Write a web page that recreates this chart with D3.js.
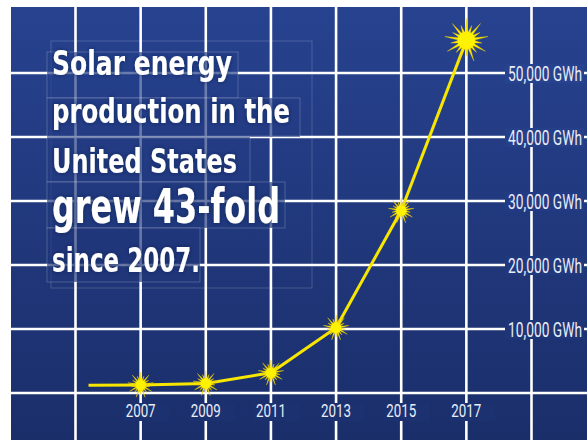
<!DOCTYPE html>
<html>
<head>
<meta charset="utf-8">
<script src="https://cdn.jsdelivr.net/npm/d3@7"></script>
<style>
  body { margin: 0; background: #fff; }
  svg { display: block; }
</style>
</head>
<body>
<svg id="chart"></svg>
<script>
// data (GWh per year); first point is where the line starts, no star
const years = [2005.4, 2007, 2009, 2011, 2013, 2015, 2017];
const production = [1200, 1250, 1500, 3150, 10200, 28500, 55100];
const starred = [false, true, true, true, true, true, true];
const xTickYears = [2007, 2009, 2011, 2013, 2015, 2017];
const xGridYears = [2005, 2007, 2009, 2011, 2013, 2015, 2017, 2019];
const yTickValues = [10000, 20000, 30000, 40000, 50000];
const yGridValues = [0, 10000, 20000, 30000, 40000, 50000];
const titleLines = ["Solar energy", "production in the", "United States", "grew 43-fold", "since 2007."];

const size = { width: 587, height: 440 };
const panel = { left: 11, top: 7 };
const bgTop = "#27428f";
const bgBottom = "#1a2e6a";
const titleFont = "'Liberation Sans Narrow', 'DejaVu Sans Condensed', 'Roboto', sans-serif";
const labelFont = "'Liberation Sans Narrow', 'Roboto', sans-serif";

// baseline, width, size of each title line
const titleLayout = [
  { y: 75, w: 180, fs: 34 },
  { y: 123, w: 238, fs: 34 },
  { y: 173, w: 185, fs: 34 },
  { y: 223, w: 228, fs: 48 },
  { y: 272, w: 148, fs: 34 }
];
const titleBoxes = [
  [47, 52, 238, 98],
  [47, 98, 300, 137],
  [47, 137, 250, 182],
  [47, 182, 285, 228],
  [47, 228, 200, 282]
];

const x = d3.scaleLinear().domain([2005, 2019]).range([75.5, 531.5]);
const y = d3.scaleLinear().domain([0, 50000]).range([393, 73]);
const bgAt = py => d3.interpolateRgb(bgTop, bgBottom)(py / size.height);

const starPath = r => {
  const n = 18;
  const pts = d3.range(n * 2).map(i => {
    const a = (i * Math.PI) / n;
    const rr = i % 2 ? r * 0.34 : i % 4 === 0 ? r : r * 0.72;
    return [rr * Math.sin(a), -rr * Math.cos(a)];
  });
  return d3.line().curve(d3.curveLinearClosed)(pts);
};

// squeeze a text horizontally to a given width, keeping its anchor point
const squeeze = (sel, width, anchorX) => {
  sel.each(function () {
    const len = this.getComputedTextLength();
    const k = width / len;
    const ax = anchorX(d3.select(this).datum());
    d3.select(this).attr("transform", `translate(${ax},0) scale(${k},1) translate(${-ax},0)`);
  });
};

const svg = d3.select("#chart").attr("width", size.width).attr("height", size.height);
const defs = svg.append("defs");

const grad = defs.append("linearGradient").attr("id", "bg")
  .attr("x1", 0).attr("y1", 0).attr("x2", 0).attr("y2", 1);
grad.append("stop").attr("offset", "0%").attr("stop-color", bgTop);
grad.append("stop").attr("offset", "100%").attr("stop-color", bgBottom);

defs.append("filter").attr("id", "shadow")
  .attr("x", -0.1).attr("y", -0.3).attr("width", 1.2).attr("height", 1.6)
  .append("feDropShadow").attr("dx", 0).attr("dy", 0).attr("stdDeviation", 2)
  .attr("flood-color", "#0c1a4a").attr("flood-opacity", 0.6);

svg.append("rect")
  .attr("x", panel.left).attr("y", panel.top)
  .attr("width", size.width - panel.left).attr("height", size.height - panel.top)
  .attr("fill", "url(#bg)");

// grid
const grid = svg.append("g").attr("stroke", "#fff").attr("stroke-width", 2.6);
grid.selectAll(".v").data(xGridYears).enter().append("line")
  .attr("x1", d => x(d)).attr("x2", d => x(d))
  .attr("y1", panel.top).attr("y2", size.height);
grid.selectAll(".h").data(yGridValues).enter().append("line")
  .attr("x1", panel.left).attr("x2", size.width)
  .attr("y1", d => y(d)).attr("y2", d => y(d));

// title boxes that dim the grid behind the text
svg.append("rect")
  .attr("x", 51).attr("y", 41).attr("width", 261).attr("height", 247)
  .attr("fill", "none").attr("stroke", "rgba(255,255,255,0.22)").attr("stroke-width", 0.8);
svg.append("g").selectAll("rect").data(titleBoxes).enter().append("rect")
  .attr("x", d => d[0]).attr("y", d => d[1])
  .attr("width", d => d[2] - d[0]).attr("height", d => d[3] - d[1])
  .attr("fill", d => bgAt(d[1] + 20)).attr("fill-opacity", 0.68)
  .attr("stroke", "rgba(255,255,255,0.25)").attr("stroke-width", 0.8);

svg.append("g").selectAll("text").data(titleLines).enter().append("text")
  .attr("x", 52)
  .attr("y", (d, i) => titleLayout[i].y)
  .attr("font-family", titleFont)
  .attr("font-weight", "bold")
  .attr("font-size", (d, i) => titleLayout[i].fs)
  .attr("textLength", (d, i) => titleLayout[i].w)
  .attr("lengthAdjust", "spacingAndGlyphs")
  .attr("fill", "#fff")
  .attr("filter", "url(#shadow)")
  .text(d => d);

// y labels
const yLab = svg.append("g").selectAll("g").data(yTickValues).enter().append("g");
yLab.append("rect")
  .attr("x", 505).attr("y", d => y(d) - 9).attr("width", 79).attr("height", 19)
  .attr("fill", d => d3.color(bgAt(y(d))).brighter(0.12));
yLab.append("text")
  .attr("x", 582).attr("y", d => y(d) + 8)
  .attr("text-anchor", "end")
  .attr("font-family", labelFont).attr("font-size", 19.5)
  .attr("fill", "#e9edf6")
  .text(d => `${d3.format(",")(d)} GWh`)
  .call(squeeze, 74, () => 582);

// x labels
const xLab = svg.append("g").selectAll("g").data(xTickYears).enter().append("g");
xLab.append("rect")
  .attr("x", d => x(d) - 17).attr("y", 403).attr("width", 46).attr("height", 18)
  .attr("fill", d3.color(bgAt(412)).brighter(0.1));
xLab.append("text")
  .attr("x", d => x(d)).attr("y", 417.5)
  .attr("text-anchor", "middle")
  .attr("font-family", labelFont).attr("font-size", 19)
  .attr("fill", "#e9edf6")
  .text(d => d)
  .call(squeeze, 30, d => x(d));

// line + stars
const points = years.map((yr, i) => ({ yr, v: production[i], star: starred[i] }));
svg.append("path")
  .datum(points)
  .attr("fill", "none").attr("stroke", "#f7e600").attr("stroke-width", 3)
  .attr("d", d3.line().x(d => x(d.yr)).y(d => y(d.v)));

const stars = svg.append("g").selectAll("g")
  .data(points.filter(d => d.star)).enter().append("g")
  .attr("transform", d => `translate(${x(d.yr)},${y(d.v)})`);
const starR = d => (d.yr === 2017 ? 22 : 13);
stars.append("path").attr("d", d => starPath(starR(d)))
  .attr("fill", "#ffec00").attr("stroke", "#e8c400").attr("stroke-width", 0.4);
stars.append("circle").attr("r", d => starR(d) * 0.4).attr("fill", "#fff200");
</script>
</body>
</html>
